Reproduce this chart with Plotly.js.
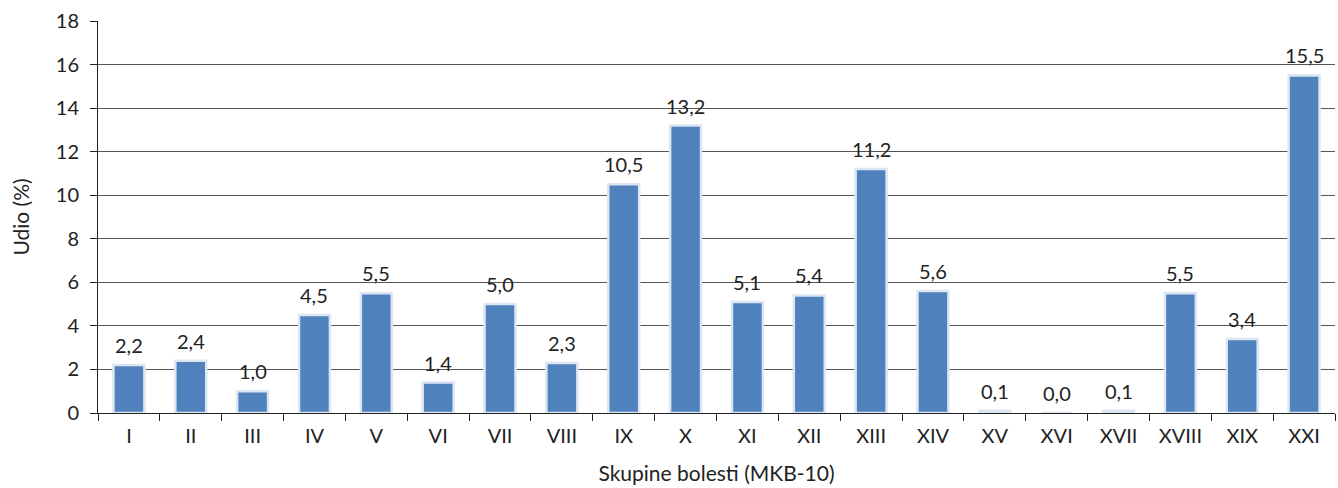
<!DOCTYPE html>
<html><head><meta charset="utf-8">
<script src="https://cdn.plot.ly/plotly-3.0.1.min.js"></script>
<style>html,body{margin:0;padding:0;background:#fff}#chart{width:1338px;height:488px}</style>
</head><body><div id="chart"></div>
<script>
const categories = ["I","II","III","IV","V","VI","VII","VIII","IX","X","XI","XII","XIII","XIV","XV","XVI","XVII","XVIII","XIX","XXI"];
const values = [2.2,2.4,1.0,4.5,5.5,1.4,5.0,2.3,10.5,13.2,5.1,5.4,11.2,5.6,0.1,0.0,0.1,5.5,3.4,15.5];
const yTitle = "Udio (%)";
const xTitle = "Skupine bolesti (MKB-10)";

const font = "Lato, 'Noto Sans', sans-serif";
const fs = 20;
const tfs = 21;
const trace = {
  type: "bar",
  x: categories,
  y: values,
  width: 0.5,
  marker: {color: "#4f81bd", line: {color: "#dce6f2", width: 2.5}},
  hoverinfo: "none"
};
const annotations = categories.map((c, i) => ({
  x: c, y: values[i], xref: "x", yref: "y",
  text: values[i].toFixed(1).replace(".", ","),
  showarrow: false, yanchor: "bottom", yshift: 6,
  font: {family: font, size: fs, color: "#222"}
}));
const layout = {
  width: 1338, height: 488,
  margin: {l: 98, r: 3, t: 21, b: 75},
  paper_bgcolor: "#fff", plot_bgcolor: "#fff",
  font: {family: font, size: fs, color: "#222"},
  showlegend: false,
  annotations: annotations,
  xaxis: {
    type: "category",
    showline: true, linecolor: "#222", linewidth: 1,
    ticks: "outside", tickson: "boundaries", ticklen: 7, tickcolor: "#222",
    ticklabelstandoff: 5,
    showgrid: false,
    tickfont: {family: font, size: fs, color: "#222"},
    title: {text: xTitle, font: {family: font, size: tfs, color: "#222"}, standoff: 20}
  },
  yaxis: {
    range: [0, 18], dtick: 2,
    showline: true, linecolor: "#222", linewidth: 1,
    ticks: "outside", ticklen: 7, tickcolor: "#222",
    ticklabelstandoff: 7,
    showgrid: true, gridcolor: "#555", gridwidth: 1,
    zeroline: false,
    tickfont: {family: font, size: fs, color: "#222"},
    title: {text: yTitle, font: {family: font, size: tfs, color: "#222"}, standoff: 20}
  }
};
Plotly.newPlot("chart", [trace], layout, {staticPlot: true, displayModeBar: false});
</script></body></html>
